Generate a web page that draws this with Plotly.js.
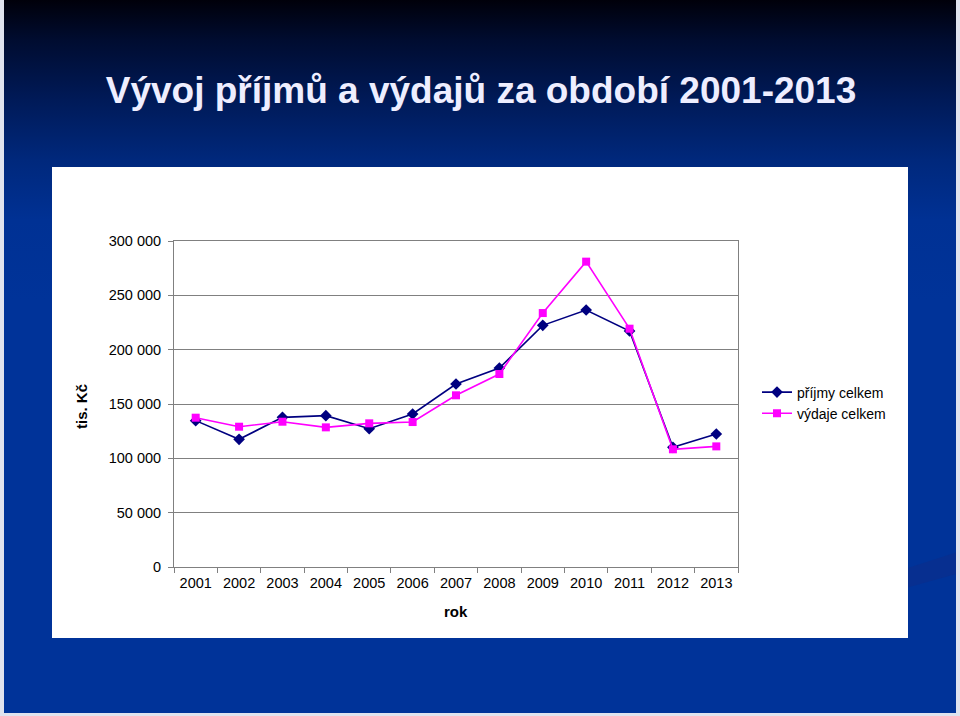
<!DOCTYPE html>
<html>
<head>
<meta charset="utf-8">
<script src="https://cdn.plot.ly/plotly-3.0.1.min.js"></script>
<style>
  html, body { margin: 0; padding: 0; width: 960px; height: 716px; overflow: hidden; background: #dfe3ee; }
  #bg { position: absolute; left: 4px; top: 0; width: 952px; height: 713px;
        background: linear-gradient(to bottom, #00000a 0px, #000c30 40px, #001a58 100px, #00287c 160px, #003194 220px, #003399 300px, #003399 716px); }
  #streak { position: absolute; left: 4px; top: 0; width: 952px; height: 713px;
        background: #0a2e8c; opacity: 0.7;
        clip-path: polygon(100% 77.5%, 100% 80.5%, 92% 83.5%, 93% 80.5%); }
  #chart { position: absolute; left: 0; top: 0; width: 960px; height: 716px; }
</style>
</head>
<body>
<div id="bg"></div>
<div id="streak"></div>
<div id="chart"></div>
<script>
const years = ['2001','2002','2003','2004','2005','2006','2007','2008','2009','2010','2011','2012','2013'];
const prijmy = [134700, 117500, 137700, 139300, 127300, 140800, 168400, 183100, 222400, 236500, 217200, 110100, 122400];
const vydaje = [137400, 129100, 133700, 128500, 132200, 133400, 158000, 177600, 233700, 281000, 219300, 108300, 111000];
const yTicks = [0, 50000, 100000, 150000, 200000, 250000, 300000];

const font = 'Liberation Sans, Arial, sans-serif';

const traces = [
  { x: years, y: prijmy, name: 'příjmy celkem', type: 'scatter', mode: 'lines+markers',
    line: { color: '#000080', width: 1.6 },
    marker: { symbol: 'diamond', size: 9, color: '#000080' } },
  { x: years, y: vydaje, name: 'výdaje celkem', type: 'scatter', mode: 'lines+markers',
    line: { color: '#FF00FF', width: 1.6 },
    marker: { symbol: 'square', size: 8, color: '#FF00FF' } }
];

const L = 174, R = 738, T = 241, B = 567;
const W = R - L, H = B - T;
const px = v => (v - L) / W;
const py = v => (B - v) / H;

const layout = {
  width: 960, height: 716,
  margin: { l: L, r: 960 - R, t: T, b: 716 - B, pad: 0 },
  paper_bgcolor: 'rgba(0,0,0,0)',
  plot_bgcolor: '#ffffff',
  separators: ', ',
  showlegend: true,
  font: { family: font, color: '#000000', size: 14 },
  title: {
    text: '<b>Vývoj příjmů a výdajů za období 2001-2013</b>',
    font: { family: font, size: 37, color: '#eeeeff' },
    x: 481 / 960, xanchor: 'center', xref: 'container',
    y: 1 - 90 / 716, yanchor: 'middle', yref: 'container'
  },
  xaxis: {
    type: 'category', tickson: 'boundaries', range: [-0.5, 12.5],
    ticks: 'outside', ticklen: 5, tickcolor: '#808080',
    showline: true, linecolor: '#808080', linewidth: 1, mirror: true,
    showgrid: false, zeroline: false,
    tickfont: { family: font, size: 14.5, color: '#000' },
    ticklabelstandoff: 3,
    fixedrange: true
  },
  yaxis: {
    range: [0, 300000], tickvals: yTicks, tickformat: ',d',
    ticks: 'outside', ticklen: 5, tickcolor: '#808080',
    showline: true, linecolor: '#808080', linewidth: 1, mirror: true,
    showgrid: true, gridcolor: '#808080', gridwidth: 1, zeroline: false,
    tickfont: { family: font, size: 14.5, color: '#000' },
    ticklabelstandoff: 4,
    fixedrange: true
  },
  legend: {
    x: px(757), y: py(403), xanchor: 'left', yanchor: 'middle',
    bgcolor: 'rgba(0,0,0,0)', borderwidth: 0,
    font: { family: font, size: 14, color: '#000' },
    itemwidth: 30, tracegroupgap: 0
  },
  shapes: [
    { type: 'rect', xref: 'paper', yref: 'paper', layer: 'below',
      x0: px(52), x1: px(908), y0: py(638), y1: py(167),
      fillcolor: '#ffffff', line: { width: 0 } }
  ],
  annotations: [
    { text: '<b>tis. Kč</b>', xref: 'paper', yref: 'paper', x: px(81), y: py(407),
      xanchor: 'center', yanchor: 'middle', textangle: -90, showarrow: false,
      font: { family: font, size: 15, color: '#000' } },
    { text: '<b>rok</b>', xref: 'paper', yref: 'paper', x: px(456), y: py(611),
      xanchor: 'center', yanchor: 'middle', showarrow: false,
      font: { family: font, size: 15, color: '#000' } }
  ]
};

Plotly.newPlot('chart', traces, layout, { staticPlot: true, displayModeBar: false });
</script>
</body>
</html>
